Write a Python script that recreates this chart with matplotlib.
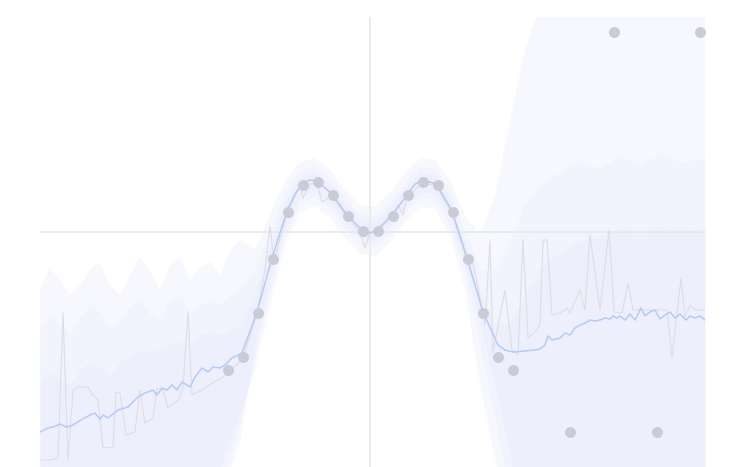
import matplotlib
matplotlib.use("Agg")
import matplotlib.pyplot as plt

# observed points
obs_x = [-1.425, -1.275, -1.125, -0.975, -0.825, -0.675, -0.525, -0.375, -0.225, -0.075,
         0.075, 0.225, 0.375, 0.525, 0.675, 0.825, 0.975, 1.125, 1.275, 1.425,
         2.00, 2.44, 2.87, 3.30]
obs_y = [-1.38, -1.25, -0.81, -0.27, 0.20, 0.47, 0.50, 0.37, 0.16, 0.01,
         0.01, 0.16, 0.37, 0.50, 0.47, 0.20, -0.27, -0.81, -1.25, -1.38,
         -2.00, 2.00, -2.00, 2.00]

# predictive mean
mean_x = [-3.30, -3.22, -3.17, -3.10, -3.04, -2.99, -2.89, -2.80, -2.75, -2.70, -2.67, -2.62,
          -2.52, -2.42, -2.35, -2.32, -2.25, -2.17, -2.13, -2.08, -2.03, -1.98, -1.93, -1.88,
          -1.83, -1.80, -1.75, -1.68, -1.62, -1.57, -1.50, -1.45, -1.38, -1.28, -1.13, -0.98,
          -0.83, -0.75, -0.68, -0.60, -0.53, -0.38, -0.23, -0.08, 0.00, 0.07, 0.22, 0.37,
          0.45, 0.52, 0.60, 0.67, 0.82, 0.97, 1.13, 1.28, 1.35, 1.43, 1.55, 1.65,
          1.70, 1.75, 1.78, 1.82, 1.90, 1.95, 2.00, 2.05, 2.10, 2.15, 2.20, 2.25,
          2.30, 2.35, 2.40, 2.43, 2.47, 2.50, 2.55, 2.60, 2.65, 2.71, 2.75, 2.80,
          2.85, 2.90, 2.95, 3.00, 3.05, 3.10, 3.16, 3.20, 3.25, 3.30, 3.35]
mean_y = [-2.00, -1.96, -1.95, -1.92, -1.95, -1.94, -1.88, -1.83, -1.81, -1.87, -1.83, -1.86,
          -1.78, -1.75, -1.68, -1.65, -1.61, -1.58, -1.63, -1.56, -1.58, -1.53, -1.58, -1.50,
          -1.53, -1.55, -1.45, -1.36, -1.40, -1.35, -1.36, -1.33, -1.26, -1.21, -0.80, -0.26,
          0.21, 0.38, 0.48, 0.52, 0.51, 0.38, 0.17, 0.02, -0.01, 0.02, 0.17, 0.37,
          0.48, 0.51, 0.50, 0.47, 0.21, -0.26, -0.80, -1.13, -1.18, -1.20, -1.19, -1.18,
          -1.17, -1.13, -1.04, -1.08, -1.06, -1.01, -1.03, -0.96, -0.93, -0.91, -0.88, -0.89,
          -0.88, -0.86, -0.87, -0.84, -0.86, -0.84, -0.88, -0.82, -0.88, -0.76, -0.84, -0.80,
          -0.78, -0.87, -0.83, -0.80, -0.86, -0.82, -0.88, -0.84, -0.86, -0.84, -0.88]

# one posterior sample
samp_x = [-3.30, -3.20, -3.12, -3.07, -3.02, -2.97, -2.92, -2.82, -2.77, -2.72, -2.67, -2.57,
          -2.54, -2.50, -2.44, -2.35, -2.30, -2.25, -2.17, -2.13, -2.07, -2.02, -1.92, -1.87,
          -1.82, -1.78, -1.68, -1.58, -1.48, -1.42, -1.28, -1.13, -1.05, -1.00, -0.96, -0.90,
          -0.83, -0.70, -0.67, -0.60, -0.53, -0.48, -0.38, -0.23, -0.10, -0.05, 0.00, 0.07,
          0.22, 0.28, 0.33, 0.37, 0.52, 0.67, 0.73, 0.82, 0.97, 1.03, 1.15, 1.20,
          1.23, 1.35, 1.42, 1.48, 1.53, 1.58, 1.65, 1.70, 1.73, 1.77, 1.82, 1.90,
          1.97, 2.00, 2.10, 2.15, 2.20, 2.30, 2.39, 2.44, 2.52, 2.58, 2.63, 2.97,
          3.02, 3.11, 3.15, 3.20, 3.25, 3.35]
samp_y = [-2.28, -2.28, -2.26, -0.81, -2.28, -1.58, -1.55, -1.55, -1.63, -1.68, -2.16, -2.15,
          -1.60, -1.61, -2.03, -2.00, -1.58, -1.91, -1.86, -1.56, -1.58, -1.76, -1.68, -1.56,
          -0.80, -1.63, -1.58, -1.51, -1.46, -1.40, -1.28, -0.83, -0.38, 0.06, -0.30, -0.06,
          0.19, 0.46, 0.34, 0.48, 0.49, 0.30, 0.36, 0.15, 0.00, -0.16, 0.00, 0.00,
          0.15, 0.27, 0.17, 0.35, 0.49, 0.46, 0.34, 0.19, -0.28, -0.30, -0.93, -0.08,
          -1.20, -0.58, -1.18, -1.23, -0.08, -1.06, -1.00, -0.93, -0.08, -0.08, -0.83, -0.81,
          -0.76, -0.81, -0.58, -0.78, -0.03, -0.78, 0.02, -0.80, -0.81, -0.51, -0.78, -0.78,
          -1.25, -0.46, -0.85, -0.73, -0.78, -0.78]

# uncertainty bands (outer, middle, inner)
band_x = [-3.30, -3.20, -3.10, -3.00, -2.90, -2.80, -2.70, -2.60, -2.50, -2.40, -2.30,
          -2.20, -2.10, -2.00, -1.90, -1.80, -1.70, -1.60, -1.50, -1.40, -1.30,
          -1.15, -1.00, -0.85, -0.70, -0.55, -0.40, -0.25, -0.10, 0.05, 0.20,
          0.35, 0.50, 0.65, 0.80, 0.95, 1.10, 1.25, 1.40, 1.55, 1.70,
          1.90, 2.10, 2.30, 2.50, 2.70, 2.90, 3.10, 3.35]
outer_hi = [-0.58, -0.36, -0.48, -0.63, -0.53, -0.38, -0.30, -0.53, -0.63, -0.43, -0.26,
            -0.38, -0.58, -0.33, -0.26, -0.48, -0.36, -0.30, -0.43, -0.18, -0.08,
            -0.18, 0.17, 0.52, 0.70, 0.74, 0.62, 0.42, 0.27, 0.25, 0.39,
            0.60, 0.74, 0.72, 0.52, 0.17, -0.03, 0.37, 1.12, 1.82, 2.27,
            2.5, 2.5, 2.5, 2.5, 2.5, 2.5, 2.5, 2.5]
outer_lo = [-2.9, -2.9, -2.9, -2.9, -2.9, -2.9, -2.9, -2.9, -2.9, -2.9, -2.9,
            -2.9, -2.9, -2.9, -2.9, -2.9, -2.9, -2.68, -2.38, -2.08, -1.83,
            -1.38, -0.73, -0.13, 0.20, 0.26, 0.14, -0.06, -0.22, -0.24, -0.10,
            0.10, 0.25, 0.23, -0.03, -0.58, -1.53, -2.28, -2.9, -2.9, -2.9,
            -2.9, -2.9, -2.9, -2.9, -2.9, -2.9, -2.9, -2.9]
mid_hi = [-0.98, -0.83, -0.93, -1.03, -0.86, -0.73, -0.80, -0.96, -0.90, -0.73, -0.68,
          -0.83, -0.88, -0.68, -0.66, -0.80, -0.73, -0.68, -0.73, -0.63, -0.58,
          -0.38, 0.02, 0.40, 0.62, 0.66, 0.54, 0.34, 0.18, 0.16, 0.30,
          0.50, 0.66, 0.64, 0.42, 0.00, -0.38, -0.38, -0.08, 0.27, 0.47,
          0.60, 0.70, 0.64, 0.76, 0.67, 0.78, 0.70, 0.74]
mid_lo = [-2.9, -2.9, -2.9, -2.9, -2.9, -2.9, -2.9, -2.9, -2.9, -2.9, -2.9,
          -2.9, -2.9, -2.9, -2.9, -2.9, -2.9, -2.78, -2.53, -2.23, -1.93,
          -1.23, -0.60, -0.04, 0.29, 0.35, 0.24, 0.04, -0.12, -0.14, 0.00,
          0.20, 0.35, 0.33, 0.07, -0.43, -1.13, -1.88, -2.63, -2.9, -2.9,
          -2.9, -2.9, -2.9, -2.9, -2.9, -2.9, -2.9, -2.9]
inner_hi = [-1.48, -1.40, -1.46, -1.53, -1.38, -1.30, -1.36, -1.43, -1.30, -1.23, -1.18,
            -1.20, -1.16, -1.13, -1.08, -1.13, -1.03, -1.00, -1.03, -0.98, -0.93,
            -0.63, -0.13, 0.30, 0.56, 0.60, 0.48, 0.28, 0.12, 0.10, 0.24,
            0.44, 0.60, 0.58, 0.34, -0.11, -0.60, -0.93, -0.90, -0.63, -0.36,
            -0.20, -0.08, -0.04, 0.04, -0.03, 0.06, 0.00, 0.04]
inner_lo = [-2.9, -2.9, -2.9, -2.9, -2.9, -2.9, -2.9, -2.9, -2.9, -2.9, -2.9,
            -2.9, -2.9, -2.9, -2.9, -2.9, -2.9, -2.73, -2.58, -2.36, -2.08,
            -1.13, -0.48, 0.04, 0.35, 0.41, 0.30, 0.10, -0.06, -0.08, 0.06,
            0.26, 0.41, 0.39, 0.15, -0.33, -0.90, -1.53, -2.23, -2.9, -2.9,
            -2.9, -2.9, -2.9, -2.9, -2.9, -2.9, -2.9, -2.9]

fig = plt.figure(figsize=(7.34, 4.67), dpi=100)
ax = fig.add_axes([40 / 734, 0, 665 / 734, 450 / 467])

band_col = '#e4e7fc'
for lo, hi in [(outer_lo, outer_hi), (mid_lo, mid_hi), (inner_lo, inner_hi)]:
    ax.fill_between(band_x, lo, hi, color=band_col, alpha=0.28, lw=0, zorder=1)

ax.axvline(0, color='#e6e6e6', lw=1.1, zorder=2)
ax.axhline(0, color='#e6e6e6', lw=1.1, zorder=2)

ax.plot(samp_x, samp_y, color='#dedee2', lw=0.8, zorder=3)
ax.plot(mean_x, mean_y, color='#b6cbf5', lw=1.1, zorder=4)
ax.scatter(obs_x, obs_y, s=62, color='#c9cbd6', lw=0, zorder=5, clip_on=False)

ax.set_xlim(-3.30, 3.35)
ax.set_ylim(-2.35, 2.15)
ax.axis('off')

fig.savefig('out.png', dpi=100)
